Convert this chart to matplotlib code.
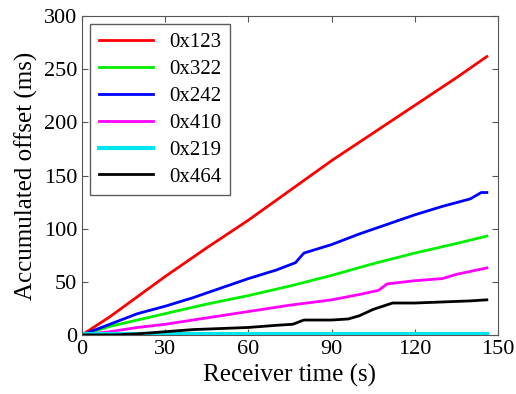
import matplotlib
matplotlib.use('Agg')
import matplotlib.pyplot as plt

# Values (time in s, accumulated offset in ms)
t_red = [0, 10, 20, 30, 45, 60, 75, 90, 105, 120, 135, 146]
y_red = [0, 17, 36, 55, 82, 108, 136, 164, 190, 216, 242, 262]

t_green = [0, 10, 20, 30, 45, 60, 75, 90, 105, 120, 135, 146]
y_green = [0, 8, 14, 20, 29, 37, 46, 56, 67, 77, 86, 93]

t_blue = [0, 10, 20, 30, 40, 50, 60, 70, 77, 80, 90, 100, 110, 120, 130, 140, 144, 146]
y_blue = [0, 10, 20, 27, 35, 44, 53, 61, 68, 77, 85, 95, 104, 113, 121, 128, 134, 134]

t_magenta = [0, 10, 20, 30, 45, 60, 75, 90, 100, 107, 110, 120, 130, 135, 146]
y_magenta = [0, 3, 7, 10, 16, 22, 28, 33, 38, 42, 48, 51, 53, 57, 63]

t_cyan = [0, 146]
y_cyan = [1, 1]

t_black = [0, 12, 20, 30, 40, 50, 60, 70, 76, 80, 90, 96, 100, 105, 112, 120, 130, 140, 146]
y_black = [0, 0, 1, 3, 5, 6, 7, 9, 10, 14, 14, 15, 18, 24, 30, 30, 31, 32, 33]

series = [
    ('0x123', t_red, y_red, '#ff0000', 2),
    ('0x322', t_green, y_green, '#00ee00', 2),
    ('0x242', t_blue, y_blue, '#0000ff', 2),
    ('0x410', t_magenta, y_magenta, '#ff00ff', 2),
    ('0x219', t_cyan, y_cyan, '#00e5ee', 3),
    ('0x464', t_black, y_black, '#000000', 2),
]

plt.rcParams['font.family'] = ['Liberation Serif', 'DejaVu Serif']

fig = plt.figure(figsize=(5.16, 3.94), dpi=100)
ax = fig.add_axes([0.159, 0.150, 0.806, 0.809])

for name, t, y, c, lw in series:
    ax.plot(t, y, color=c, linewidth=lw, label=name)

ax.set_xlim(0, 150)
ax.set_ylim(0, 300)
ax.set_xticks([0, 30, 60, 90, 120, 150])
ax.set_yticks([0, 50, 100, 150, 200, 250, 300])
ax.tick_params(direction='in', top=True, right=True, labelsize=16, length=4, color='#555555')
for s in ax.spines.values():
    s.set_color('#555555')

ax.set_xlabel('Receiver time (s)', fontsize=18)
ax.set_ylabel('Accumulated offset (ms)', fontsize=18)

leg = ax.legend(loc='upper left', fontsize=15, handlelength=2.6, frameon=True,
                fancybox=False, edgecolor='#333333', borderaxespad=0.4,
                labelspacing=0.35)
leg.get_frame().set_linewidth(1)

fig.savefig('out.png', dpi=100)
